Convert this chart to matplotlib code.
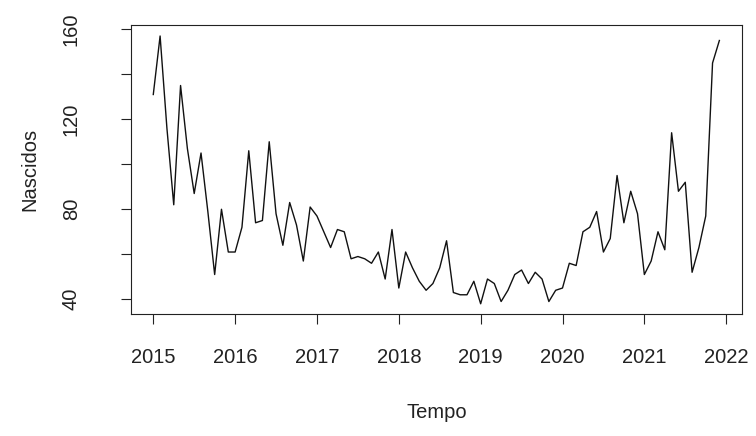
import numpy as np
import matplotlib
matplotlib.use("Agg")
import matplotlib.pyplot as plt

# nascidos por mes, jan/2015 a dez/2021
nasc_2015 = [131, 157, 116, 82, 135, 107, 87, 105, 79, 51, 80, 61]
nasc_2016 = [61, 72, 106, 74, 75, 110, 78, 64, 83, 73, 57, 81]
nasc_2017 = [77, 70, 63, 71, 70, 58, 59, 58, 56, 61, 49, 71]
nasc_2018 = [45, 61, 54, 48, 44, 47, 54, 66, 43, 42, 42, 48]
nasc_2019 = [38, 49, 47, 39, 44, 51, 53, 47, 52, 49, 39, 44]
nasc_2020 = [45, 56, 55, 70, 72, 79, 61, 67, 95, 74, 88, 78]
nasc_2021 = [51, 57, 70, 62, 114, 88, 92, 52, 63, 77, 145, 155]

start_year = 2015
year_ticks = [2015, 2016, 2017, 2018, 2019, 2020, 2021, 2022]
y_ticks = [40, 60, 80, 100, 120, 140, 160]
y_ticklabels = ["40", "", "80", "", "120", "", "160"]

nascidos = np.array(nasc_2015 + nasc_2016 + nasc_2017 + nasc_2018
                    + nasc_2019 + nasc_2020 + nasc_2021)
tempo = start_year + np.arange(len(nascidos)) / 12

plt.rcParams["font.family"] = ["Liberation Sans", "DejaVu Sans"]
fs = 14.5

fig = plt.figure(figsize=(7.56, 4.36), dpi=100)
ax = fig.add_axes([0.1728, 0.2787, 0.9815 - 0.1728, 0.942 - 0.2787])

ax.plot(tempo, nascidos, color="#111111", linewidth=1.0)
ax.margins(x=0.04, y=0.04)

ax.set_xticks(year_ticks)
ax.set_yticks(y_ticks)
ax.set_yticklabels(y_ticklabels, rotation=90, va="center")
ax.tick_params(axis="both", direction="out", length=7, width=0.8,
               labelsize=fs, colors="#222222")
ax.tick_params(axis="x", pad=17)
ax.tick_params(axis="y", pad=29)

for side in ax.spines.values():
    side.set_linewidth(0.8)
    side.set_color("#222222")

ax.set_xlabel("Tempo", fontsize=fs, labelpad=26, color="#222222")
ax.set_ylabel("Nascidos", fontsize=fs, labelpad=16, color="#222222")

fig.savefig("out.png", dpi=100)
plt.close(fig)
